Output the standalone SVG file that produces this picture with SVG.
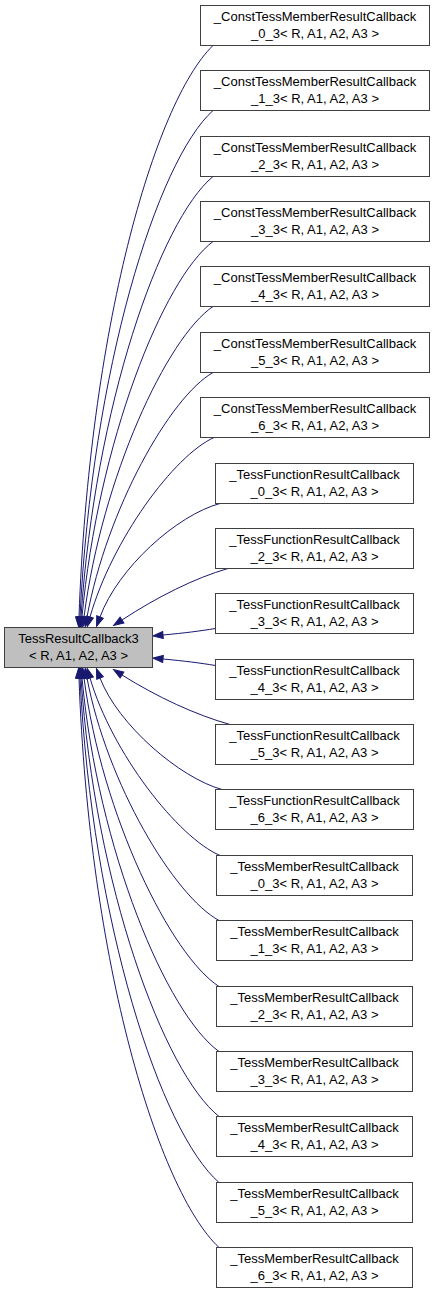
<svg xmlns="http://www.w3.org/2000/svg" width="435" height="1293" viewBox="0 0 435 1293">
<style>
.n rect{fill:#ffffff;stroke:#404040;stroke-width:1}
.base rect{fill:#bfbfbf}
.n text{font-family:"Liberation Sans",Arial,sans-serif;font-size:13px;fill:#000;text-anchor:middle}
.e path{fill:none;stroke:#191970;stroke-width:1;marker-end:url(#ah)}
</style>
<defs>
<marker id="ah" markerUnits="userSpaceOnUse" viewBox="-1 -1 12 9" markerWidth="12" markerHeight="9" refX="0" refY="3.5" orient="auto">
<path d="M0,0 L10,3.5 L0,7 Z" fill="#191970" stroke="#191970" stroke-width="1"/>
</marker>
</defs>
<g id="connectors" class="e">
<path d="M213,45.5 C154,102.7 89,331.3 79,617"/>
<path d="M213,110.5 C157,161 92,370 80,617"/>
<path d="M213,176.5 C160,220.5 95,407 81,617"/>
<path d="M213,241.5 C163,279 98,443 82,617"/>
<path d="M213,306.5 C167,337.5 102,477 84,617"/>
<path d="M213,372.5 C170,397 107,509 87,617"/>
<path d="M214,437.5 C174,455.5 112,540 90,617"/>
<path d="M220,503.5 C177,515 118,568 100,617"/>
<path d="M228,568.5 C195,578 157,597 122,620"/>
<path d="M215.5,628.5 C200,631 185,633 163,635"/>
<path d="M215.5,665.5 C200,663 185,661 163,659"/>
<path d="M230,724.5 C196,715 157,697 122,675"/>
<path d="M222,789.5 C180,778 118,725 100,678"/>
<path d="M220,855.5 C178,837.5 112,753 90,678"/>
<path d="M219,920.5 C174,896 107,783.6 87,678"/>
<path d="M219,986.5 C171,955.5 102,816 84,678"/>
<path d="M219,1051.5 C167,1014 98,850 82,678"/>
<path d="M219,1116.5 C164,1072.5 95,886 81,678"/>
<path d="M219,1182.5 C161,1132 92,923 80,678"/>
<path d="M219,1247.5 C158,1190.3 89,963 79,678"/>
</g>
<g id="TessResultCallback3" class="n base"><rect x="4.5" y="627.5" width="148" height="40"/><text x="78.5" y="643">TessResultCallback3</text><text x="78.5" y="660">&lt; R, A1, A2, A3 &gt;</text></g>
<g id="ConstTessMemberResultCallback_0_3" class="n"><rect x="200.5" y="5.5" width="229" height="40"/><text x="315" y="21">_ConstTessMemberResultCallback</text><text x="315" y="38">_0_3&lt; R, A1, A2, A3 &gt;</text></g>
<g id="ConstTessMemberResultCallback_1_3" class="n"><rect x="200.5" y="70.5" width="229" height="40"/><text x="315" y="86">_ConstTessMemberResultCallback</text><text x="315" y="103">_1_3&lt; R, A1, A2, A3 &gt;</text></g>
<g id="ConstTessMemberResultCallback_2_3" class="n"><rect x="200.5" y="136.5" width="229" height="40"/><text x="315" y="152">_ConstTessMemberResultCallback</text><text x="315" y="169">_2_3&lt; R, A1, A2, A3 &gt;</text></g>
<g id="ConstTessMemberResultCallback_3_3" class="n"><rect x="200.5" y="201.5" width="229" height="40"/><text x="315" y="217">_ConstTessMemberResultCallback</text><text x="315" y="234">_3_3&lt; R, A1, A2, A3 &gt;</text></g>
<g id="ConstTessMemberResultCallback_4_3" class="n"><rect x="200.5" y="266.5" width="229" height="40"/><text x="315" y="282">_ConstTessMemberResultCallback</text><text x="315" y="299">_4_3&lt; R, A1, A2, A3 &gt;</text></g>
<g id="ConstTessMemberResultCallback_5_3" class="n"><rect x="200.5" y="332.5" width="229" height="40"/><text x="315" y="348">_ConstTessMemberResultCallback</text><text x="315" y="365">_5_3&lt; R, A1, A2, A3 &gt;</text></g>
<g id="ConstTessMemberResultCallback_6_3" class="n"><rect x="200.5" y="397.5" width="229" height="40"/><text x="315" y="413">_ConstTessMemberResultCallback</text><text x="315" y="430">_6_3&lt; R, A1, A2, A3 &gt;</text></g>
<g id="TessFunctionResultCallback_0_3" class="n"><rect x="215.5" y="463.5" width="198" height="40"/><text x="314.5" y="479">_TessFunctionResultCallback</text><text x="314.5" y="496">_0_3&lt; R, A1, A2, A3 &gt;</text></g>
<g id="TessFunctionResultCallback_2_3" class="n"><rect x="215.5" y="528.5" width="198" height="40"/><text x="314.5" y="544">_TessFunctionResultCallback</text><text x="314.5" y="561">_2_3&lt; R, A1, A2, A3 &gt;</text></g>
<g id="TessFunctionResultCallback_3_3" class="n"><rect x="215.5" y="593.5" width="198" height="40"/><text x="314.5" y="609">_TessFunctionResultCallback</text><text x="314.5" y="626">_3_3&lt; R, A1, A2, A3 &gt;</text></g>
<g id="TessFunctionResultCallback_4_3" class="n"><rect x="215.5" y="659.5" width="198" height="40"/><text x="314.5" y="675">_TessFunctionResultCallback</text><text x="314.5" y="692">_4_3&lt; R, A1, A2, A3 &gt;</text></g>
<g id="TessFunctionResultCallback_5_3" class="n"><rect x="215.5" y="724.5" width="198" height="40"/><text x="314.5" y="740">_TessFunctionResultCallback</text><text x="314.5" y="757">_5_3&lt; R, A1, A2, A3 &gt;</text></g>
<g id="TessFunctionResultCallback_6_3" class="n"><rect x="215.5" y="789.5" width="198" height="40"/><text x="314.5" y="805">_TessFunctionResultCallback</text><text x="314.5" y="822">_6_3&lt; R, A1, A2, A3 &gt;</text></g>
<g id="TessMemberResultCallback_0_3" class="n"><rect x="216.5" y="855.5" width="196" height="40"/><text x="314.5" y="871">_TessMemberResultCallback</text><text x="314.5" y="888">_0_3&lt; R, A1, A2, A3 &gt;</text></g>
<g id="TessMemberResultCallback_1_3" class="n"><rect x="216.5" y="920.5" width="196" height="40"/><text x="314.5" y="936">_TessMemberResultCallback</text><text x="314.5" y="953">_1_3&lt; R, A1, A2, A3 &gt;</text></g>
<g id="TessMemberResultCallback_2_3" class="n"><rect x="216.5" y="986.5" width="196" height="40"/><text x="314.5" y="1002">_TessMemberResultCallback</text><text x="314.5" y="1019">_2_3&lt; R, A1, A2, A3 &gt;</text></g>
<g id="TessMemberResultCallback_3_3" class="n"><rect x="216.5" y="1051.5" width="196" height="40"/><text x="314.5" y="1067">_TessMemberResultCallback</text><text x="314.5" y="1084">_3_3&lt; R, A1, A2, A3 &gt;</text></g>
<g id="TessMemberResultCallback_4_3" class="n"><rect x="216.5" y="1116.5" width="196" height="40"/><text x="314.5" y="1132">_TessMemberResultCallback</text><text x="314.5" y="1149">_4_3&lt; R, A1, A2, A3 &gt;</text></g>
<g id="TessMemberResultCallback_5_3" class="n"><rect x="216.5" y="1182.5" width="196" height="40"/><text x="314.5" y="1198">_TessMemberResultCallback</text><text x="314.5" y="1215">_5_3&lt; R, A1, A2, A3 &gt;</text></g>
<g id="TessMemberResultCallback_6_3" class="n"><rect x="216.5" y="1247.5" width="196" height="40"/><text x="314.5" y="1263">_TessMemberResultCallback</text><text x="314.5" y="1280">_6_3&lt; R, A1, A2, A3 &gt;</text></g>
</svg>
